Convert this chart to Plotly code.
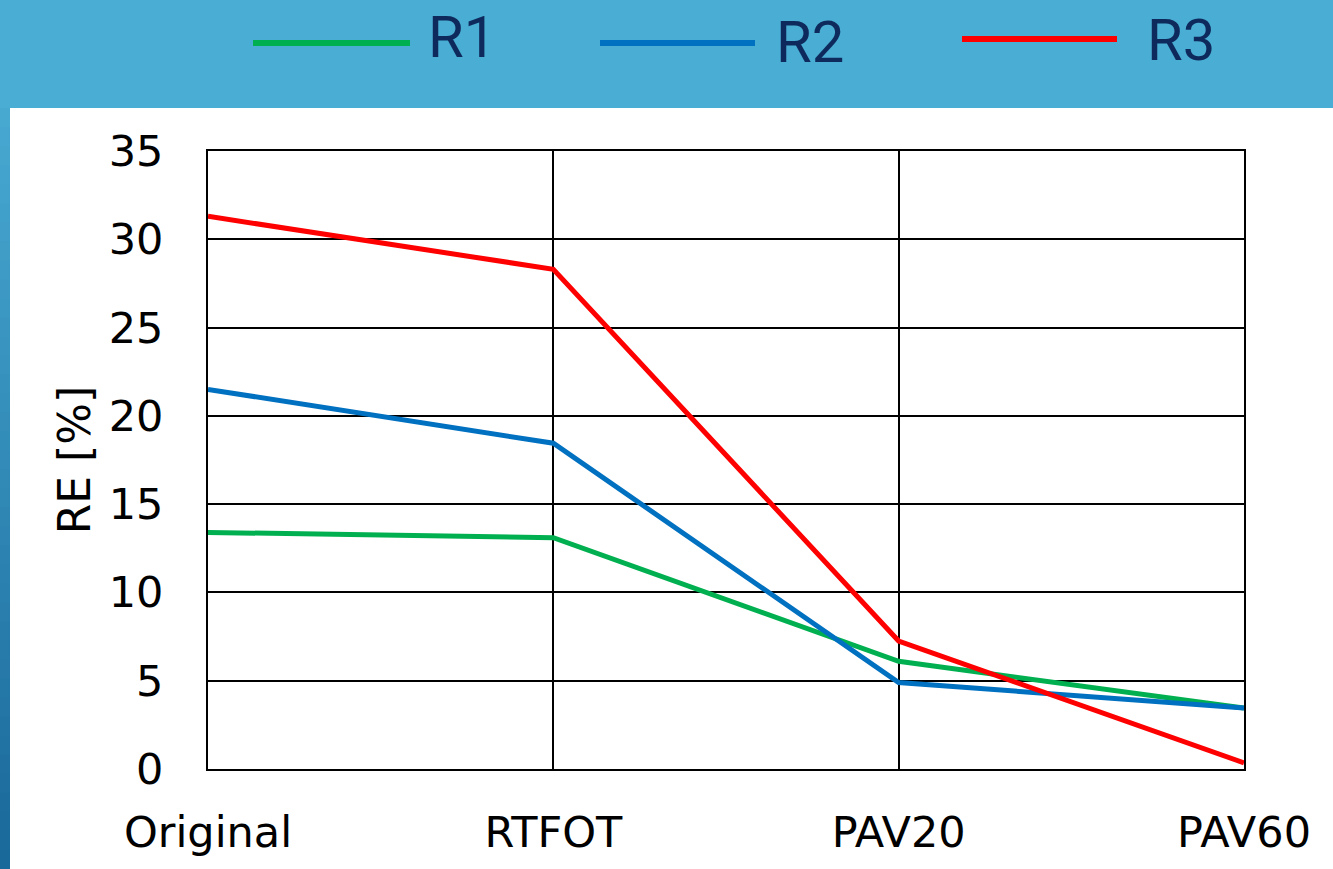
import plotly.graph_objects as go

# Aging stages on the x axis
stages = ["Original", "RTFOT", "PAV20", "PAV60"]

# Elastic recovery (RE, %) for each binder
re_r1 = [13.4, 13.1, 6.1, 3.45]
re_r2 = [21.5, 18.45, 4.9, 3.45]
re_r3 = [31.3, 28.3, 7.25, 0.35]

series = [
    ("R1", re_r1, "#00B050"),
    ("R2", re_r2, "#0070C0"),
    ("R3", re_r3, "#FF0000"),
]

W, H = 1333, 869
L, R, T, B = 208, 89, 151, 100
PW, PH = W - L - R, H - T - B


def px_x(p):
    return (p - L) / PW


def px_y(p):
    return (H - B - p) / PH


fig = go.Figure()
for name, vals, color in series:
    fig.add_trace(go.Scatter(
        x=stages, y=vals, name=name, mode="lines",
        line=dict(color=color, width=5), showlegend=False,
    ))

shapes = []
# blue backdrop band on the left edge, darkening downwards
top_c = (0x47, 0xA8, 0xD0)
bot_c = (0x1A, 0x69, 0x9B)
n = 40
for i in range(n):
    f = i / (n - 1)
    c = tuple(round(a + (b - a) * f) for a, b in zip(top_c, bot_c))
    shapes.append(dict(
        type="rect", xref="paper", yref="paper", layer="below",
        x0=px_x(0), x1=px_x(11), y0=px_y(108 + i * (H - 108) / n),
        y1=px_y(108 + (i + 1) * (H - 108) / n) - 0.001,
        fillcolor="rgb(%d,%d,%d)" % c, line=dict(width=0),
    ))
# white panel
shapes.append(dict(
    type="rect", xref="paper", yref="paper", layer="below",
    x0=px_x(10), x1=px_x(W + 2), y0=px_y(108), y1=px_y(H + 2),
    fillcolor="white", line=dict(width=0),
))

# legend drawn across the header band
legend_items = [
    ("R1", "#00B050", 253, 410, 43, 462, 37),
    ("R2", "#0070C0", 600, 755, 43, 810, 42),
    ("R3", "#FF0000", 962, 1117, 39, 1181, 40),
]
annotations = []
for name, color, lx0, lx1, ly, tx, ty in legend_items:
    shapes.append(dict(
        type="line", xref="paper", yref="paper",
        x0=px_x(lx0), x1=px_x(lx1), y0=px_y(ly), y1=px_y(ly),
        line=dict(color=color, width=6),
    ))
    annotations.append(dict(
        text=name, xref="paper", yref="paper", x=px_x(tx), y=px_y(ty),
        xanchor="center", yanchor="middle", showarrow=False,
        font=dict(family="Liberation Sans Narrow, Roboto", size=58, color="#0E2A5C"),
    ))

fig.update_layout(
    width=W, height=H,
    margin=dict(l=L, r=R, t=T, b=B, pad=0),
    paper_bgcolor="#4AAED4",
    plot_bgcolor="white",
    shapes=shapes,
    annotations=annotations,
    font=dict(family="DejaVu Sans", color="black"),
    xaxis=dict(
        type="category", range=[0, 3], showgrid=True, gridcolor="black",
        gridwidth=1.5, showline=True, linecolor="black", linewidth=2,
        mirror=True, tickfont=dict(size=43), ticks="", ticklabelstandoff=24,
        zeroline=False, automargin=False,
    ),
    yaxis=dict(
        range=[0, 35], dtick=5, showgrid=True, gridcolor="black",
        gridwidth=1.5, showline=True, linecolor="black", linewidth=2,
        mirror=True, tickfont=dict(size=43), ticks="", ticklabelstandoff=34,
        zeroline=False, automargin=False,
        title=dict(text="RE [%]", font=dict(size=44), standoff=4),
    ),
)

fig.write_html("out.html")
